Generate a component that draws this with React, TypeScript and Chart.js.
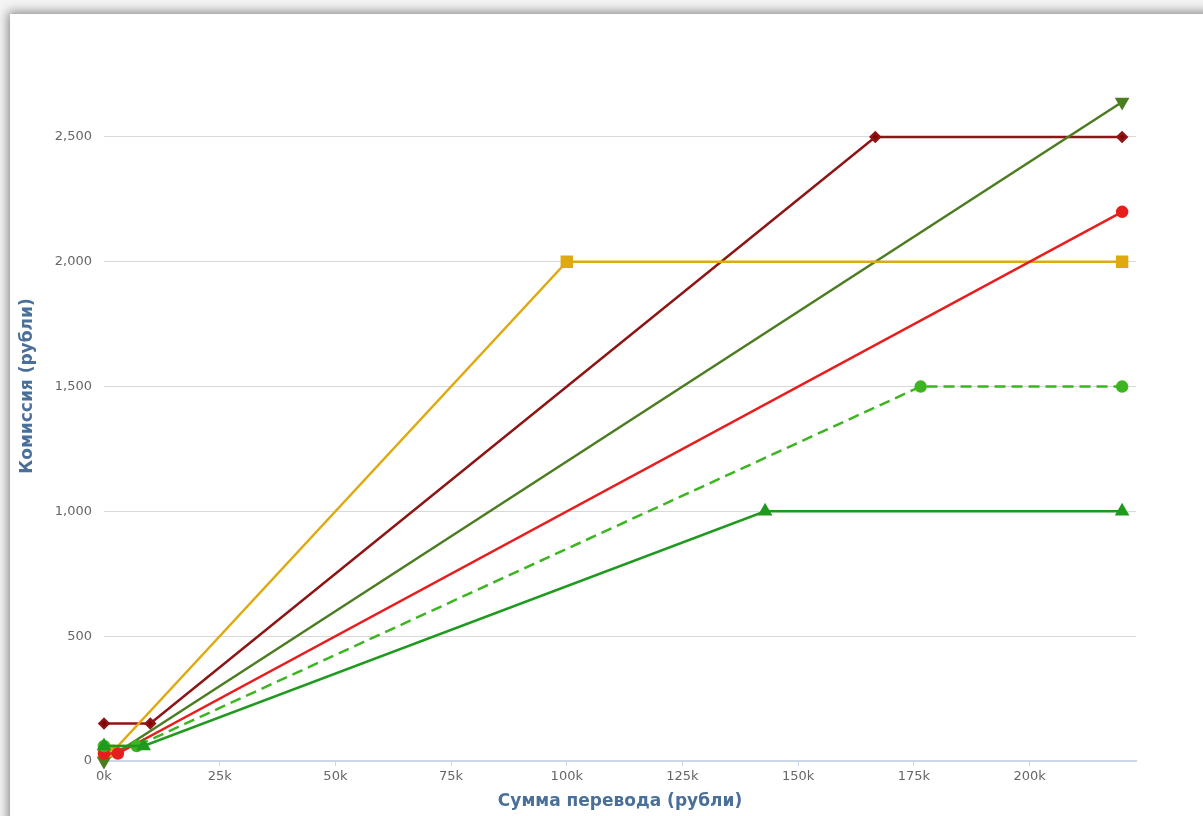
import React, { useEffect, useRef } from "react";
import { Chart, registerables } from "chart.js";

Chart.register(...registerables);

// Data (amount in rubles -> commission in rubles)
const darkRedX = [0, 10000, 166667, 220000];
const darkRedY = [150, 150, 2500, 2500];
const oliveX = [0, 220000];
const oliveY = [0, 2640];
const redX = [0, 3000, 220000];
const redY = [30, 30, 2200];
const goldX = [0, 2000, 100000, 220000];
const goldY = [40, 40, 2000, 2000];
const lightGreenX = [0, 7059, 176471, 220000];
const lightGreenY = [60, 60, 1500, 1500];
const greenX = [0, 8571, 142857, 220000];
const greenY = [60, 60, 1000, 1000];

const xTickValues = [0, 25000, 50000, 75000, 100000, 125000, 150000, 175000, 200000];
const yTickValues = [0, 500, 1000, 1500, 2000, 2500];

const xTitle = "Сумма перевода (рубли)";
const yTitle = "Комиссия (рубли)";

const pts = (xs: number[], ys: number[]) => xs.map((x, i) => ({ x, y: ys[i] }));

const FONT = "'DejaVu Sans', Verdana, sans-serif";

const yTitlePlugin = {
  id: "yTitlePlugin",
  afterDraw(chart: any) {
    const ctx = chart.ctx;
    ctx.save();
    ctx.translate(28, 386);
    ctx.rotate(-Math.PI / 2);
    ctx.font = `bold 17px ${FONT}`;
    ctx.fillStyle = "#4a6f99";
    ctx.textAlign = "center";
    ctx.textBaseline = "middle";
    ctx.fillText(yTitle, 0, 0);
    ctx.restore();
  },
};

export default function App() {
  const ref = useRef<HTMLCanvasElement | null>(null);

  useEffect(() => {
    if (!ref.current) return;
    const font = FONT;
    const chart = new Chart(ref.current, {
      type: "line",
      plugins: [yTitlePlugin],
      data: {
        datasets: [
          {
            data: pts(greenX, greenY),
            borderColor: "#1f9a1f",
            backgroundColor: "#1f9a1f",
            pointStyle: "triangle",
            pointRadius: 6,
            borderWidth: 2.5,
            clip: false,
          },
          {
            data: pts(lightGreenX, lightGreenY),
            borderColor: "#3cb521",
            backgroundColor: "#3cb521",
            borderDash: [11, 6],
            pointStyle: "circle",
            pointRadius: 5,
            borderWidth: 2.5,
            clip: false,
          },
          {
            data: pts(redX, redY),
            borderColor: "#e81e1e",
            backgroundColor: "#e81e1e",
            pointStyle: "circle",
            pointRadius: 5,
            borderWidth: 2.5,
            clip: false,
          },
          {
            data: pts(goldX, goldY),
            borderColor: "#dfaa10",
            backgroundColor: "#dfaa10",
            pointStyle: "rect",
            pointRadius: 7,
            borderWidth: 2.5,
            clip: false,
          },
          {
            data: pts(oliveX, oliveY),
            borderColor: "#4b7d20",
            backgroundColor: "#4b7d20",
            pointStyle: "triangle",
            pointRotation: 180,
            pointRadius: 6,
            borderWidth: 2.5,
            clip: false,
          },
          {
            data: pts(darkRedX, darkRedY),
            borderColor: "#8e1515",
            backgroundColor: "#850000",
            pointStyle: "rectRot",
            pointRadius: 4.5,
            borderWidth: 2.5,
            clip: false,
          },
        ],
      },
      options: {
        animation: false,
        responsive: false,
        maintainAspectRatio: false,
        layout: { padding: { left: 0, right: 67, top: 87, bottom: 0 } },
        plugins: { legend: { display: false }, tooltip: { enabled: false } },
        elements: { line: { tension: 0 }, point: { borderWidth: 0 } },
        scales: {
          x: {
            type: "linear",
            min: 0,
            max: 223000,
            afterBuildTicks: (s: any) => {
              s.ticks = xTickValues.map((value) => ({ value }));
            },
            afterFit: (s: any) => {
              s.height = 55;
            },
            ticks: {
              autoSkip: false,
              padding: 3,
              color: "#666666",
              font: { family: font, size: 13 },
              maxRotation: 0,
              callback: (v: any) => `${Number(v) / 1000}k`,
            },
            grid: {
              drawOnChartArea: false,
              drawTicks: true,
              tickLength: 5,
              color: "#ccd6eb",
            },
            border: { color: "#ccd6eb", width: 2 },
            title: {
              display: true,
              text: xTitle,
              color: "#4a6f99",
              font: { family: font, size: 17, weight: "bold" },
              padding: { top: 0, bottom: 4 },
            },
          },
          y: {
            type: "linear",
            min: 0,
            max: 2700,
            afterBuildTicks: (s: any) => {
              s.ticks = yTickValues.map((value) => ({ value }));
            },
            afterFit: (s: any) => {
              s.width = 104;
            },
            ticks: {
              autoSkip: false,
              padding: 12,
              color: "#666666",
              font: { family: font, size: 13 },
              callback: (v: any) => Number(v).toLocaleString("en-US"),
            },
            grid: { color: "#d9d9d9", drawTicks: false, lineWidth: 1 },
            border: { display: false },
            title: { display: false },
          },
        },
      },
    });
    return () => chart.destroy();
  }, []);

  return (
    <div
      style={{
        position: "fixed",
        left: 0,
        top: 0,
        width: 1203,
        height: 816,
        background: "#f4f4f4",
        overflow: "hidden",
      }}
    >
      <div
        style={{
          position: "absolute",
          left: 10,
          top: 14,
          width: 1250,
          height: 860,
          background: "#ffffff",
          boxShadow: "0 0 10px 2px rgba(0,0,0,0.45)",
        }}
      />
      <canvas
        ref={ref}
        width={1203}
        height={816}
        style={{ position: "absolute", left: 0, top: 0, width: 1203, height: 816 }}
      />
    </div>
  );
}
